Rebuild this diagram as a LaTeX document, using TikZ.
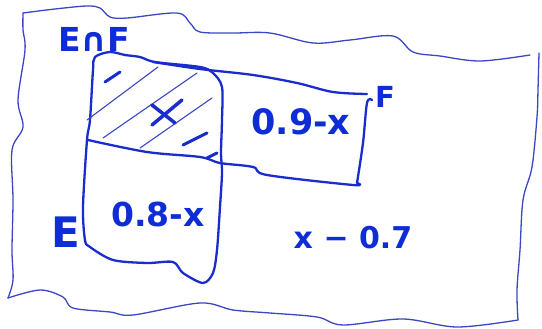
\documentclass[tikz,border=0pt]{standalone}
\usepackage{fontspec}
\setmainfont{DejaVu Sans}
\begin{document}
\begin{tikzpicture}[x=1pt,y=-1pt,
  ink/.style={draw=inkblue,line width=2.3pt,line cap=round,line join=round},
  thin ink/.style={draw=lightblue,line width=1.3pt,line cap=round,line join=round},
  hatch/.style={draw=lightblue,line width=1.1pt,line cap=round},
  dashmark/.style={draw=inkblue,line width=3pt,line cap=round},
  lbl/.style={text=textblue,inner sep=0pt,font=\bfseries}]
\definecolor{inkblue}{RGB}{25,45,205}
\definecolor{lightblue}{RGB}{60,70,195}
\definecolor{textblue}{RGB}{15,45,215}
\useasboundingbox (0,0) rectangle (542,329);
% outer border
\draw[thin ink] plot[smooth,tension=0.55] coordinates {(23,13) (55,9) (87,6) (100,8) (110,17) (127,18) (177,13) (190,23) (200,32) (233,33) (270,33) (313,43) (350,40) (393,36) (413,52) (440,56) (480,61) (530,55)};
\draw[thin ink] plot[smooth,tension=0.55] coordinates {(539,53) (538,90) (537,117) (532,167) (523,200) (520,250) (517,290) (518,320)};
\draw[thin ink] plot[smooth,tension=0.55] coordinates {(518,320) (457,327) (403,319) (343,325) (317,317) (270,313) (233,310) (200,303) (133,315) (110,312) (73,308) (63,297) (40,290) (8,298)};
\draw[thin ink] plot[smooth,tension=0.55] coordinates {(8,298) (13,280) (12,250) (13,200) (12,150) (23,127) (18,100) (25,50) (23,30) (23,13)};
% set E
\draw[ink] plot[smooth cycle,tension=0.5] coordinates {(95,57) (110,52) (125,55) (140,57) (155,62) (200,67) (213,73) (222,87) (222,120) (221,153) (222,173) (220,207) (217,250) (213,273) (203,283) (183,273) (173,262) (147,263) (113,260) (90,247) (85,240) (83,207) (87,140) (90,120) (93,70)};
% set F
\draw[ink] plot[smooth,tension=0.55] coordinates {(153,62) (200,69) (253,75) (297,83) (333,92) (367,94)};
\draw[ink] plot[smooth,tension=0.55] coordinates {(372,100) (367,103) (363,143) (357,183)};
\draw[ink] plot[smooth,tension=0.55] coordinates {(357,183) (353,185) (267,175) (253,167) (220,163) (200,157) (147,152) (88,140)};
% hatching
\draw[hatch] (87,120) -- (158,67);
\draw[hatch] (103,138) -- (197,73);
\draw[hatch] (140,148) -- (212,98);
\draw[dashmark] (105,82) -- (120,72);
\draw[dashmark] (183,145) -- (207,133);
\draw[dashmark] (207,158) -- (217,153);
% x in the intersection
\draw[dashmark,line width=3.5pt] (152,105) -- (175,123);
\draw[dashmark,line width=3.5pt] (182,100) -- (152,125);
% labels
\node[lbl,font=\bfseries\fontsize{33}{33}\selectfont] (EnF) at (94,39) {E∩F};
\node[lbl,font=\bfseries\fontsize{29}{29}\selectfont] (Flbl) at (385,97) {F};
\node[lbl,font=\bfseries\fontsize{42}{42}\selectfont] (Elbl) at (66,232) {E};
\node[lbl,font=\bfseries\fontsize{35}{35}\selectfont] (a) at (301,122) {0.9-x};
\node[lbl,font=\bfseries\fontsize{33}{33}\selectfont] (b) at (158,214) {0.8-x};
\node[lbl,font=\bfseries\fontsize{30}{30}\selectfont] (c) at (353,238) {x − 0.7};
\end{tikzpicture}
\end{document}
